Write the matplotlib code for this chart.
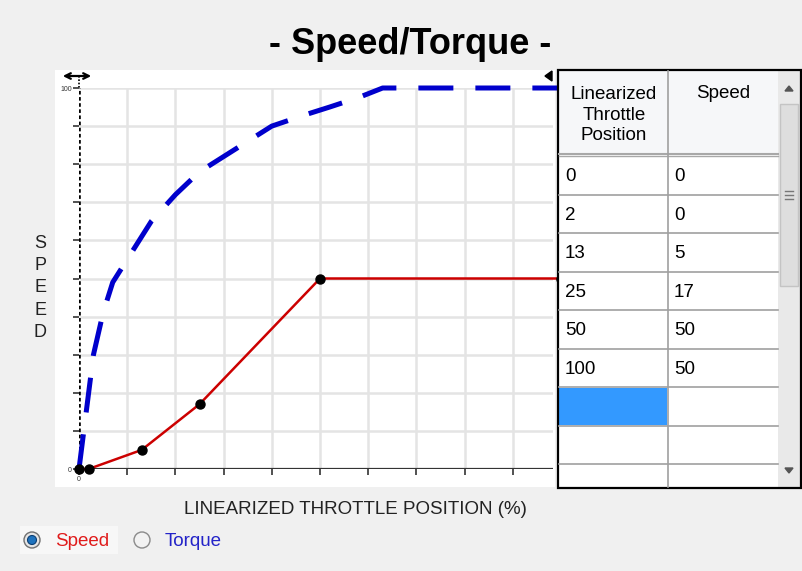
import matplotlib
matplotlib.use("Agg")
import matplotlib.pyplot as plt
from matplotlib.patches import Rectangle, Circle, Polygon

plt.rcParams['font.family'] = ['Liberation Sans', 'DejaVu Sans']

# speed table (also the red curve)
throttle = [0, 2, 13, 25, 50, 100]
speed = [0, 0, 5, 17, 50, 50]

# torque curve
torque_x = [0, 1, 2, 3, 5, 7, 11, 15, 20, 25, 30, 35, 40, 47, 52, 58, 63, 100]
torque_y = [0, 10, 20, 30, 41, 49, 57, 65, 72, 78, 82, 86, 90, 93, 95, 97.5, 100, 100]

grid_x = [10, 20, 30, 40, 50, 60, 70, 80, 90]
grid_y = [10, 20, 30, 40, 50, 60, 70, 80, 90, 100]

W, H = 802, 571
fig = plt.figure(figsize=(W / 100, H / 100), dpi=100, facecolor='#f0f0f0')


def pixel_layer(z):
    a = fig.add_axes([0, 0, 1, 1], zorder=z)
    a.set_xlim(0, W)
    a.set_ylim(H, 0)
    a.axis('off')
    a.patch.set_alpha(0)
    return a


# background layer: panel, titles, radio buttons
bg = pixel_layer(0)
bg.add_patch(Rectangle((55, 70), 500, 417, facecolor='white', edgecolor='none'))

bg.text(410, 44, '- Speed/Torque -', fontsize=26, fontweight='bold',
        ha='center', va='center')
bg.text(355, 510, 'LINEARIZED THROTTLE POSITION (%)', fontsize=13.5,
        ha='center', va='center', color='#222222')
bg.text(40, 288, 'S\nP\nE\nE\nD', fontsize=13, ha='center', va='center',
        linespacing=1.4, color='#222222')

bg.annotate('', xy=(60, 76), xytext=(94, 76),
            arrowprops=dict(arrowstyle='<->', lw=1.6, color='black'))
bg.plot([79, 79], [76, 88], color='black', lw=1.2, ls=(0, (1, 1)))
bg.add_patch(Polygon([[545, 76], [552, 71], [552, 81]], color='black'))

bg.add_patch(Rectangle((20, 526), 98, 28, facecolor='#f7f7f7', edgecolor='none'))
bg.add_patch(Circle((32, 540), 8, facecolor='#e6e6e6', edgecolor='#707070', lw=1))
bg.add_patch(Circle((32, 540), 4.5, facecolor='#1e73be', edgecolor='#0d3f73', lw=0.8))
bg.text(55, 542, 'Speed', fontsize=13.5, color='#e01b1b', va='center')
bg.add_patch(Circle((142, 540), 8, facecolor='#f2f2f2', edgecolor='#8a8a8a', lw=1))
bg.text(165, 542, 'Torque', fontsize=13.5, color='#2323c8', va='center')

# chart
ax = fig.add_axes([79 / W, 1 - 469 / H, 474 / W, 381 / H], zorder=1)
ax.set_facecolor('none')
ax.set_xlim(0, 474 / 4.82)
ax.set_ylim(0, 100)
for s in ax.spines.values():
    s.set_visible(False)
ax.vlines(grid_x, 0, 100, color='#e4e4e4', lw=1.8, zorder=1)
ax.hlines(grid_y, 0, 100, color='#e4e4e4', lw=1.8, zorder=1)

ax.plot(torque_x, torque_y, color='#0000cc', lw=3.6, dashes=(7, 4.4),
        solid_capstyle='butt', dash_capstyle='butt', clip_on=False, zorder=3)
ax.plot(throttle, speed, color='#cc0000', lw=1.8, marker='o', markersize=6.5,
        markerfacecolor='black', markeredgecolor='black', clip_on=False, zorder=4)

ax.axhline(0, color='#333333', lw=1.6, zorder=2)
ax.axvline(0, color='black', lw=2.6, ls=(0, (1, 0.7)), zorder=2)

ax.set_xticks([0] + grid_x)
ax.set_yticks([0] + grid_y)
ax.set_xticklabels(['0'] + [''] * len(grid_x))
ax.set_yticklabels(['0'] + [''] * (len(grid_y) - 1) + ['100'])
ax.tick_params(axis='both', length=4, width=1.2, color='#333333', labelsize=5,
               pad=1, labelcolor='#333333')

# table layer on top of the chart
tb = pixel_layer(2)
tb.add_patch(Rectangle((558, 70), 243, 418, facecolor='white', edgecolor='none'))
tb.add_patch(Rectangle((559, 71), 219, 83, facecolor='#f6f7f9', edgecolor='none'))
tb.text(614, 115, 'Linearized\nThrottle\nPosition', fontsize=13.5, ha='center',
        va='center', linespacing=1.3)
tb.text(723, 93, 'Speed', fontsize=13.5, ha='center', va='center')
tb.plot([559, 778], [154, 154], color='#a8a8a8', lw=1.5)
tb.plot([559, 778], [156, 156], color='#a8a8a8', lw=1.0)
row_h = 38.5
top = 156
for i in range(8):
    yl = top + (i + 1) * row_h
    tb.plot([559, 778], [yl, yl], color='#a0a0a0', lw=1.2)
for i, (t, s) in enumerate(zip(throttle, speed)):
    yc = top + (i + 0.5) * row_h + 1.5
    tb.text(565, yc, str(t), fontsize=13.5, va='center')
    tb.text(674, yc, str(s), fontsize=13.5, va='center')
sel = len(throttle)
tb.add_patch(Rectangle((559, top + sel * row_h + 1), 108, row_h - 2,
                       facecolor='#3399ff', edgecolor='none'))
tb.plot([668, 668], [71, 487], color='#a0a0a0', lw=1.2)

# scrollbar
tb.add_patch(Rectangle((778, 71), 22, 416, facecolor='#e9e9e9', edgecolor='none'))
tb.add_patch(Polygon([[785, 91], [793, 91], [789, 86]], color='#555555'))
tb.add_patch(Rectangle((780, 104), 18, 182, facecolor='#dedede', edgecolor='#c4c4c4', lw=1))
for gy in (191, 195, 199):
    tb.plot([785, 793], [gy, gy], color='#777777', lw=1)
tb.add_patch(Polygon([[785, 468], [793, 468], [789, 473]], color='#555555'))
tb.add_patch(Rectangle((558, 70), 243, 418, facecolor='none', edgecolor='black', lw=1.6))

fig.savefig('out.png', dpi=100, facecolor=fig.get_facecolor())
